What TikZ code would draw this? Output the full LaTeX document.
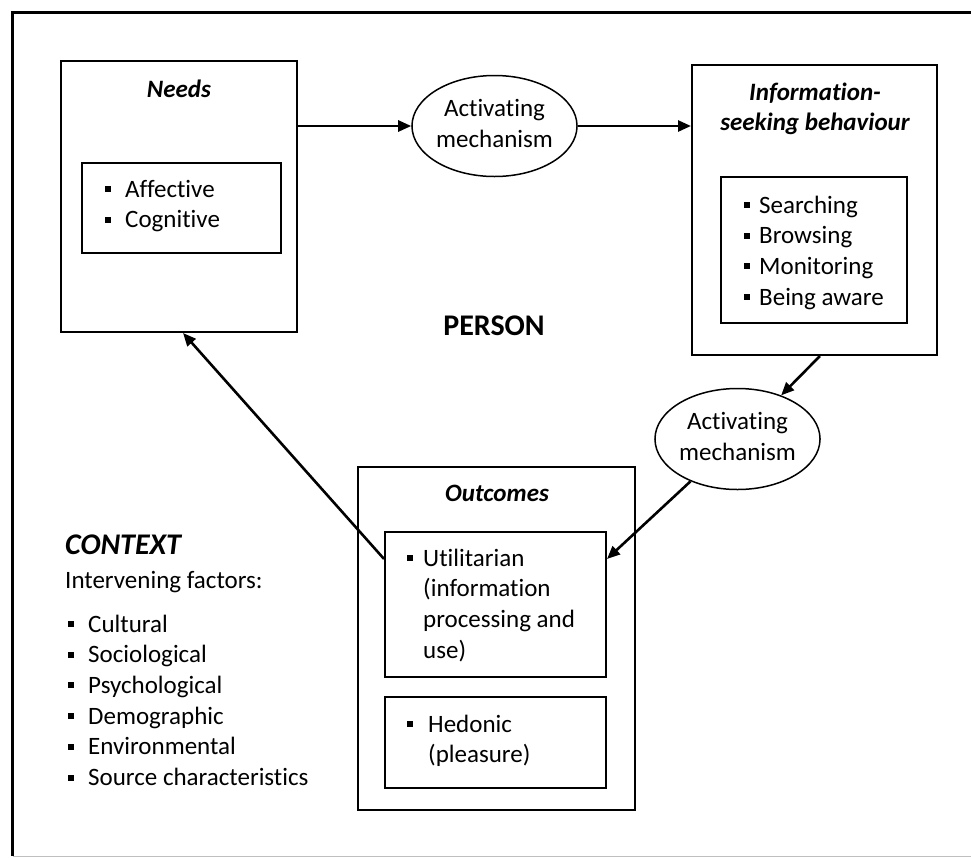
\documentclass[tikz,border=0pt]{standalone}
\usepackage{fontspec}
\setmainfont{Carlito}[Ligatures=NoCommon]
\usetikzlibrary{arrows.meta,shapes.geometric,calc}
\newcommand\basesize{\fontsize{25}{30.7}\selectfont}
\newcommand\bigsize{\fontsize{30}{34}\selectfont}
% square bullet hanging left of the text, #1 = gap to the text
\newcommand\sqbul[1]{\llap{\raisebox{5pt}{\rule{6pt}{6pt}}\hspace{#1}}}
\begin{document}
\begin{tikzpicture}[x=1pt,y=-1pt,
  box/.style={draw, line width=2pt, rectangle, inner sep=0pt},
  mech/.style={draw, line width=1.5pt, ellipse, inner sep=0pt,
    minimum width=155pt, minimum height=101pt, font=\basesize},
  txt/.style={inner sep=0pt, anchor=base west, font=\basesize},
  title/.style={inner sep=0pt, anchor=base, font=\basesize\bfseries\itshape},
  flow/.style={line width=2.6pt, -{Triangle[length=13pt,width=11pt]}}]
\useasboundingbox (0,0) rectangle (971,857);

% outer frame
\coordinate (fr1) at (971,12);
\coordinate (fr2) at (12.5,12);
\coordinate (fr3) at (12.5,856);
\coordinate (fr4) at (971,856);
\draw[line width=3pt] (fr1) -- (fr2) -- (fr3);
\draw[line width=1pt, black!25] (fr3) -- (fr4);

% Needs
\node[box, minimum width=236pt, minimum height=271pt] (needs) at (179,196.5) {};
\node[box, minimum width=199pt, minimum height=90pt] (needsin) at (181.5,208) {};
\node[title] (needst) at (179,97) {Needs};
\node[txt] (needsl) at (125,197) {\begin{tabular}[t]{@{}l@{}}\sqbul{14pt}Affective\\ \sqbul{14pt}Cognitive\end{tabular}};

% Information-seeking behaviour
\node[box, minimum width=245pt, minimum height=290pt] (info) at (814.5,210) {};
\node[box, minimum width=186pt, minimum height=146pt] (infoin) at (814,250) {};
\node[title] (infot) at (815,100) {\begin{tabular}[t]{@{}c@{}}Information-\\ seeking behaviour\end{tabular}};
\node[txt] (infol) at (759,213) {\begin{tabular}[t]{@{}l@{}}\sqbul{9pt}Searching\\ \sqbul{9pt}Browsing\\ \sqbul{9pt}Monitoring\\ \sqbul{9pt}Being aware\end{tabular}};

% activating mechanisms
\node[mech] (e1) at (494.5,126) {\begin{tabular}{@{}c@{}}Activating\\ mechanism\end{tabular}};
\node[mech] (e2) at (737.5,439) {\begin{tabular}{@{}c@{}}Activating\\ mechanism\end{tabular}};

% Outcomes
\node[box, minimum width=277pt, minimum height=343pt] (outc) at (496.5,638.5) {};
\node[box, minimum width=221pt, minimum height=145pt] (util) at (495.5,604.5) {};
\node[box, minimum width=221pt, minimum height=91pt] (hedo) at (495.5,742.5) {};
\node[title] (outct) at (497,501) {Outcomes};
\node[txt] (utill) at (423,566) {\begin{tabular}[t]{@{}l@{}}\sqbul{10pt}Utilitarian\\ (information\\ processing and\\ use)\end{tabular}};
\node[txt] (hedol) at (428,732) {\begin{tabular}[t]{@{}l@{}}\sqbul{15pt}Hedonic\\ (pleasure)\end{tabular}};

% person and context
\node[inner sep=0pt, anchor=base, font=\bigsize\bfseries] (person) at (494,335) {PERSON};
\node[inner sep=0pt, anchor=base west, font=\bigsize\bfseries\itshape] (ctx) at (65,554) {CONTEXT};
\node[txt] (ctxi) at (65,588) {Intervening factors:};
\node[txt] (ctxl) at (88,632) {\begin{tabular}[t]{@{}l@{}}\sqbul{14pt}Cultural\\ \sqbul{14pt}Sociological\\ \sqbul{14pt}Psychological\\ \sqbul{14pt}Demographic\\ \sqbul{14pt}Environmental\\ \sqbul{14pt}Source characteristics\end{tabular}};

% flow
\draw[flow] (needs.east |- e1.west) -- (e1.west);
\draw[flow] (e1.east) -- (info.west |- e1.east);
\draw[flow] ($(info.south west)!0.522!(info.south east)$) -- (e2.45);
\draw[flow] (e2.222) -- ($(util.north east)!0.19!(util.south east)$);
\draw[flow] ($(util.north west)!0.19!(util.south west)$) -- ($(needs.south west)!0.517!(needs.south east)$);
\end{tikzpicture}
\end{document}
